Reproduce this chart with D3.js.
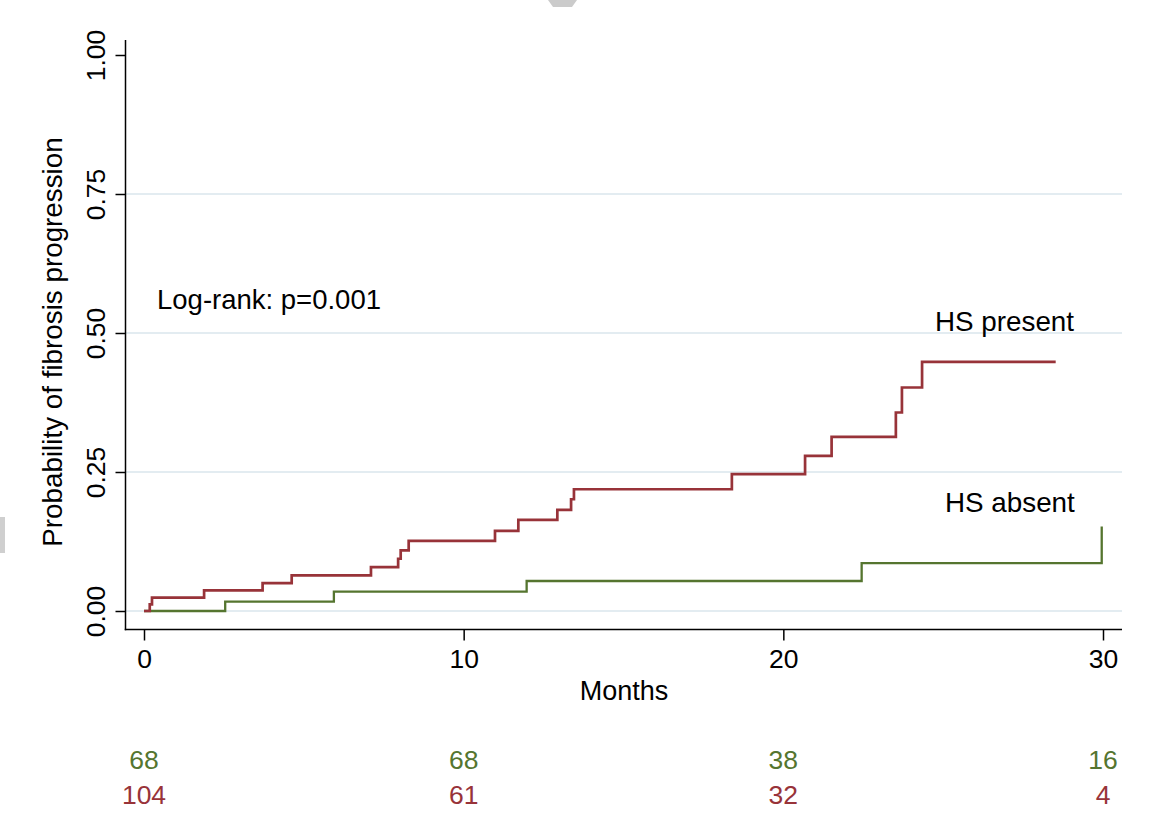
<!DOCTYPE html>
<html>
<head>
<meta charset="utf-8">
<script src="https://cdn.jsdelivr.net/npm/d3@7"></script>
<style>
  html, body { margin: 0; padding: 0; background: #fff; }
  svg { display: block; font-family: "Liberation Sans", Arial, Helvetica, sans-serif; }
</style>
</head>
<body>
<svg id="chart" width="1149" height="836"></svg>
<script>
// Kaplan–Meier cumulative incidence of fibrosis progression, by HS status
const hsPresentTime = [0, 0.18, 0.25, 1.88, 3.71, 4.62, 7.10, 7.95, 8.03, 8.28, 10.98, 11.71, 12.93, 13.36, 13.45, 18.39, 20.68, 21.51, 23.52, 23.71, 24.34, 28.52];
const hsPresentProb = [0, 0.012, 0.024, 0.037, 0.050, 0.064, 0.079, 0.094, 0.109, 0.126, 0.144, 0.164, 0.182, 0.201, 0.219, 0.246, 0.279, 0.313, 0.357, 0.402, 0.448, 0.448];

const hsAbsentTime = [0, 2.54, 5.94, 11.97, 22.45, 29.96];
const hsAbsentProb = [0, 0.017, 0.035, 0.054, 0.086, 0.152];

// Axis ticks
const monthTicks = [0, 10, 20, 30];
const probTicks = [0, 0.25, 0.5, 0.75, 1];
const gridTicks = [0, 0.25, 0.5, 0.75];

// Numbers at risk at each month tick
const atRiskAbsent = [68, 68, 38, 16];
const atRiskPresent = [104, 61, 32, 4];

const red = "#983339";
const green = "#55752f";
const gridColor = "#e3ecf1";

const svg = d3.select("#chart");

const x = d3.scaleLinear().domain([0, 30]).range([144, 1103]);
const y = d3.scaleLinear().domain([0, 1]).range([611, 55]);

const axisX = 125.5, axisY = 629.5, plotRight = 1122, axisTop = 40;

// light edge marks
svg.append("path").attr("d", "M548,0 L577,0 L572,7 L553,7 Z").attr("fill", "#cbcbcb");
svg.append("rect").attr("x", 0).attr("y", 517).attr("width", 5).attr("height", 36).attr("fill", "#cfcfcf");

// gridlines
svg.append("g").selectAll("line").data(gridTicks).join("line")
  .attr("x1", axisX).attr("x2", plotRight)
  .attr("y1", d => y(d)).attr("y2", d => y(d))
  .attr("stroke", gridColor).attr("stroke-width", 2);

// y axis
const yAxis = svg.append("g").attr("transform", `translate(${axisX},0)`)
  .call(d3.axisLeft(y).tickValues(probTicks).tickFormat(d3.format(".2f")).tickSize(10));
yAxis.select(".domain").remove();
yAxis.selectAll(".tick line").attr("stroke", "#000").attr("stroke-width", 1.5);
yAxis.selectAll(".tick text")
  .attr("transform", "rotate(-90)")
  .attr("x", 0).attr("y", -21).attr("dy", 0)
  .attr("text-anchor", "middle")
  .attr("font-size", 26.5).attr("fill", "#000")
  .attr("font-family", "Liberation Sans, Arial, sans-serif");
svg.append("line").attr("x1", axisX).attr("x2", axisX).attr("y1", axisTop).attr("y2", axisY + 0.75)
  .attr("stroke", "#000").attr("stroke-width", 1.5);

// x axis
const xAxis = svg.append("g").attr("transform", `translate(0,${axisY})`)
  .call(d3.axisBottom(x).tickValues(monthTicks).tickFormat(d3.format("d")).tickSize(11));
xAxis.select(".domain").remove();
xAxis.selectAll(".tick line").attr("stroke", "#000").attr("stroke-width", 1.5);
xAxis.selectAll(".tick text")
  .attr("y", 38).attr("dy", 0)
  .attr("font-size", 26.5).attr("fill", "#000")
  .attr("font-family", "Liberation Sans, Arial, sans-serif");
svg.append("line").attr("x1", axisX - 0.75).attr("x2", plotRight).attr("y1", axisY).attr("y2", axisY)
  .attr("stroke", "#000").attr("stroke-width", 1.5);

// axis titles
svg.append("text").attr("x", 624).attr("y", 700).attr("text-anchor", "middle")
  .attr("font-size", 27).text("Months");
svg.append("text").attr("transform", "translate(62,342) rotate(-90)")
  .attr("text-anchor", "middle").attr("font-size", 27.8)
  .text("Probability of fibrosis progression");

// step curves
const step = d3.line().curve(d3.curveStepAfter).x(d => x(d[0])).y(d => y(d[1]));
svg.append("path").datum(d3.zip(hsAbsentTime, hsAbsentProb))
  .attr("d", step).attr("fill", "none").attr("stroke", green).attr("stroke-width", 2.3);
svg.append("path").datum(d3.zip(hsPresentTime, hsPresentProb))
  .attr("d", step).attr("fill", "none").attr("stroke", red).attr("stroke-width", 2.7);

// annotations
svg.append("text").attr("x", 157).attr("y", 309).attr("font-size", 27.5).text("Log-rank: p=0.001");
svg.append("text").attr("x", 935).attr("y", 331).attr("font-size", 27.8).text("HS present");
svg.append("text").attr("x", 945).attr("y", 512).attr("font-size", 27.8).text("HS absent");

// numbers at risk
svg.append("g").selectAll("text").data(d3.zip(monthTicks, atRiskAbsent)).join("text")
  .attr("x", d => x(d[0])).attr("y", 769).attr("text-anchor", "middle")
  .attr("font-size", 26.5).attr("fill", green).text(d => d[1]);
svg.append("g").selectAll("text").data(d3.zip(monthTicks, atRiskPresent)).join("text")
  .attr("x", d => x(d[0])).attr("y", 804).attr("text-anchor", "middle")
  .attr("font-size", 26.5).attr("fill", red).text(d => d[1]);
</script>
</body>
</html>
